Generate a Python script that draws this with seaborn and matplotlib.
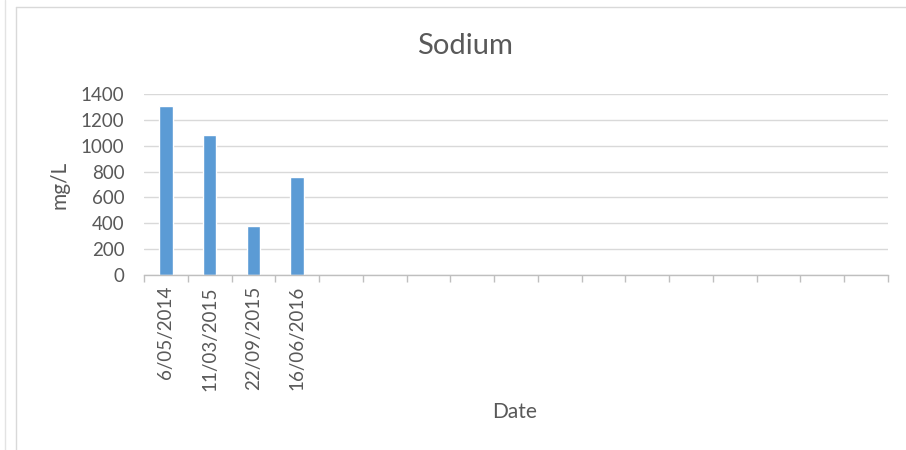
import matplotlib
matplotlib.use("Agg")
import matplotlib.pyplot as plt
from matplotlib.lines import Line2D
import seaborn as sns
import pandas as pd
import numpy as np

# Data
dates = ["6/05/2014", "11/03/2015", "22/09/2015", "16/06/2016"]
sodium = [1310, 1080, 380, 755]
n_slots = 17  # total category slots on the axis (empty ones have no data)
yticks = [0, 200, 400, 600, 800, 1000, 1200, 1400]

slot_names = dates + [f"_empty{i}" for i in range(n_slots - len(dates))]
values = sodium + [np.nan] * (n_slots - len(dates))
df = pd.DataFrame({"Date": slot_names, "mg/L": values})

sns.set_theme(style="white")
plt.rcParams["font.family"] = ["Lato", "DejaVu Sans"]

fig = plt.figure(figsize=(9.06, 4.5), dpi=100)
ax = fig.add_axes([144/906, 1 - 275/450, (888 - 144)/906, (275 - 94)/450])

sns.barplot(data=df, x="Date", y="mg/L", order=slot_names, color="#5b9bd5",
            width=0.31, ax=ax, saturation=1)

txt = "#595959"
ax.set_ylim(0, 1400)
ax.set_yticks(yticks)
ax.set_yticklabels([str(v) for v in yticks], fontsize=13.5, color=txt)
ax.set_xlim(-0.5, n_slots - 0.5)
ax.set_xticks(np.arange(n_slots + 1) - 0.5, minor=False)
ax.set_xticklabels([""] * (n_slots + 1))
ax.set_xticks(np.arange(len(dates)), minor=True)
ax.set_xticklabels(dates, minor=True, rotation=90, fontsize=13.5, color=txt)
ax.tick_params(axis="x", which="minor", length=0, pad=8, bottom=True)
ax.tick_params(axis="x", which="major", length=5, width=1, color="#bfbfbf",
               direction="out", bottom=True)
ax.tick_params(axis="y", length=0, pad=14)
ax.yaxis.grid(True, color="#d9d9d9", linewidth=1)
ax.set_axisbelow(True)
for s in ["top", "right", "left"]:
    ax.spines[s].set_visible(False)
ax.spines["bottom"].set_color("#bfbfbf")
ax.spines["bottom"].set_linewidth(1)

ax.set_ylabel("mg/L", fontsize=15, color=txt, labelpad=8)
ax.set_xlabel("")
fig.text(515/906, 1 - 412/450, "Date", ha="center", va="center", fontsize=15, color=txt)
fig.text(465/906, 1 - 46/450, "Sodium", ha="center", va="center", fontsize=21, color=txt)

# chart frame lines
fig.add_artist(Line2D([16/906, 16/906], [0, 1 - 7/450], transform=fig.transFigure, color="#d9d9d9", lw=1))
fig.add_artist(Line2D([16/906, 1], [1 - 7/450, 1 - 7/450], transform=fig.transFigure, color="#d9d9d9", lw=1))
fig.add_artist(Line2D([5/906, 5/906], [0, 1], transform=fig.transFigure, color="#e3e3e3", lw=1))

fig.savefig("out.png", dpi=100)
